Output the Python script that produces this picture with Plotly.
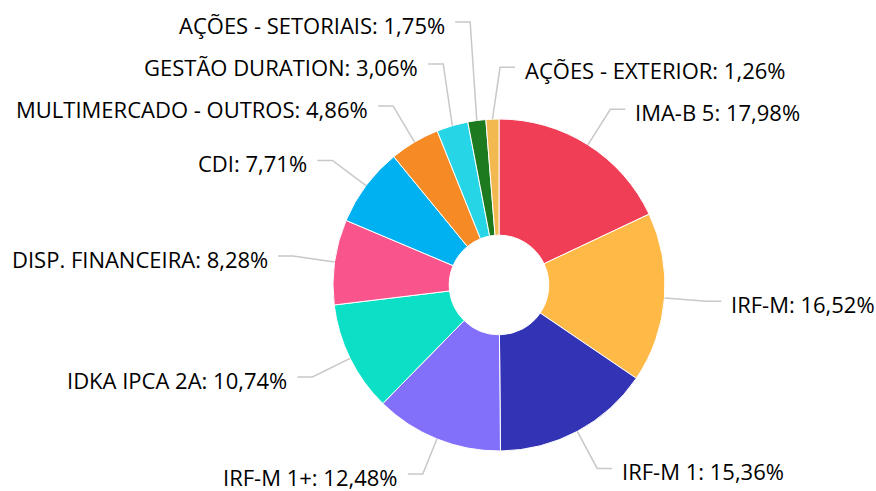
import math
import plotly.graph_objects as go

# ---- data ----
labels = ["IMA-B 5", "IRF-M", "IRF-M 1", "IRF-M 1+", "IDKA IPCA 2A",
          "DISP. FINANCEIRA", "CDI", "MULTIMERCADO - OUTROS",
          "GESTÃO DURATION", "AÇÕES - SETORIAIS", "AÇÕES - EXTERIOR"]
values = [17.98, 16.52, 15.36, 12.48, 10.74, 8.28, 7.71, 4.86, 3.06, 1.75, 1.26]
colors = ["#EF3E56", "#FFB946", "#3333B5", "#8270FA", "#0BE0C6",
          "#F9548C", "#00B1F2", "#F68B25", "#26D6E6", "#1E7A1E", "#F2B950"]

# ---- layout constants ----
W, H = 876, 491
CX, CY, RAD = 499, 285, 166          # pie centre / radius in px
LABEL_R = 208                        # radius at which labels sit
SPACING = 42                         # min vertical distance between labels
YMIN, YMAX = 20, 474
FONT = dict(family="Open Sans", size=22, color="#000000")

fig = go.Figure(go.Pie(
    labels=labels, values=values, sort=False, direction="clockwise",
    rotation=0, hole=0.3, textinfo="none", hoverinfo="label+percent",
    marker=dict(colors=colors, line=dict(color="#ffffff", width=1)),
    domain=dict(x=[(CX - RAD) / W, (CX + RAD) / W],
                y=[(H - CY - RAD) / H, (H - CY + RAD) / H]),
    showlegend=False,
))

# ---- label geometry derived from the values ----
total = sum(values)
items = []
cum = 0.0
for lab, v in zip(labels, values):
    mid = (cum + v / 2) / total * 2 * math.pi   # clockwise from top
    cum += v
    side = 1 if math.sin(mid) > -0.05 else -1
    items.append(dict(label=lab, value=v, theta=mid, side=side,
                      target=CY - LABEL_R * math.cos(mid)))


def distribute(group):
    placed = []
    for it in sorted(group, key=lambda d: -d["value"]):
        t = min(max(it["target"], YMIN), YMAX)
        cands = [t, YMIN, YMAX]
        for p in placed:
            cands += [p + SPACING, p - SPACING]
        ok = [c for c in cands if YMIN - 1e-6 <= c <= YMAX + 1e-6 and
              all(abs(c - p) >= SPACING - 1e-6 for p in placed)]
        y = min(ok, key=lambda c: abs(c - t)) if ok else t
        it["y"] = y
        placed.append(y)


distribute([i for i in items if i["side"] == 1])
distribute([i for i in items if i["side"] == -1])


def px(x, y):
    return x / W, 1 - y / H


shapes, annos = [], []
for it in items:
    th, s, y = it["theta"], it["side"], it["y"]
    tx, ty = CX + RAD * math.sin(th), CY - RAD * math.cos(th)
    dy = CY - y
    radial = abs(math.tan(th) * dy) if abs(math.cos(th)) > 1e-6 else 1e9
    if abs(dy) >= LABEL_R:
        crook_x = (CX + s * radial + tx) / 2
    else:
        crook_x = CX + s * min(math.sqrt(LABEL_R ** 2 - dy ** 2), radial)
    end_x = crook_x + s * 15
    text_x = crook_x + s * 23
    p1, p2, p3 = px(tx, ty), px(crook_x, y), px(end_x, y)
    shapes.append(dict(type="path", xref="paper", yref="paper",
                       path=f"M {p1[0]} {p1[1]} L {p2[0]} {p2[1]} L {p3[0]} {p3[1]}",
                       line=dict(color="#c8c8c8", width=1.5)))
    ax, ay = px(text_x, y + 3)
    num = f"{it['value']:.2f}".replace(".", ",")
    txt = f"{it['label']}: {num}%"
    annos.append(dict(x=ax, y=ay, xref="paper", yref="paper", text=txt,
                      showarrow=False, xanchor="left" if s == 1 else "right",
                      yanchor="middle", font=FONT))

fig.update_layout(
    width=W, height=H, margin=dict(l=0, r=0, t=0, b=0),
    paper_bgcolor="#ffffff", plot_bgcolor="#ffffff",
    shapes=shapes, annotations=annos,
)
fig.write_html("out.html", config={"displayModeBar": False},
               post_script="document.body.style.margin='0px';")
